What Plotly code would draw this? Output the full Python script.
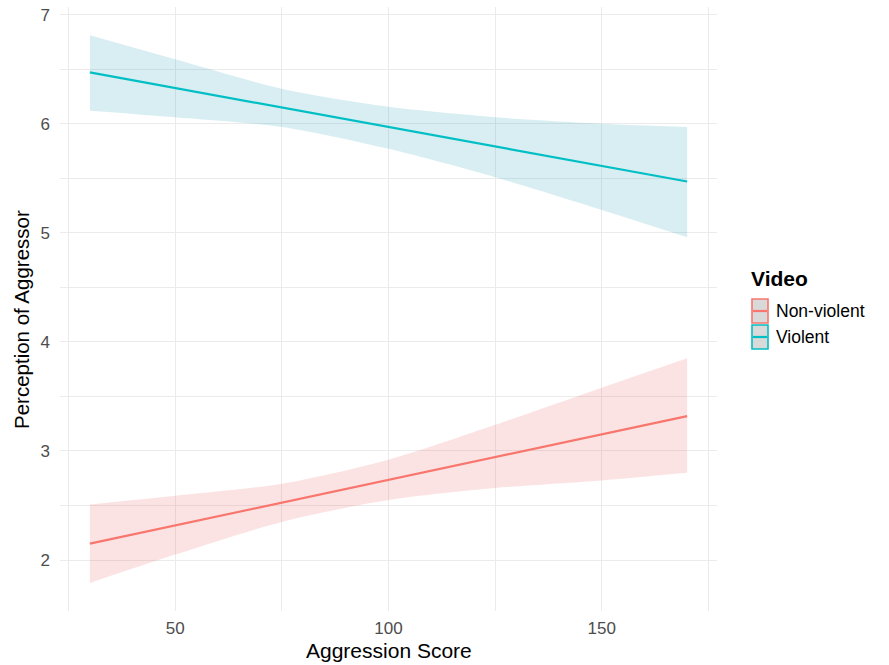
import plotly.graph_objects as go

# ---- data ----
x_line = [30, 170]
nonviolent_line = [2.15, 3.32]
violent_line = [6.47, 5.47]

x_band = [30, 50, 75, 100, 125, 150, 170]
violent_upper = [6.81, 6.59, 6.32, 6.155, 6.06, 6.00, 5.97]
violent_lower = [6.12, 6.06, 5.97, 5.77, 5.51, 5.21, 4.96]
nonviolent_upper = [2.51, 2.59, 2.70, 2.92, 3.24, 3.58, 3.85]
nonviolent_lower = [1.79, 2.05, 2.35, 2.55, 2.66, 2.73, 2.80]

groups = ["Non-violent", "Violent"]
x_ticks = [50, 100, 150]
y_ticks = [2, 3, 4, 5, 6, 7]

RED = "#F8766D"
CYAN = "#00BFC4"
FONT = "Liberation Sans, Arial, sans-serif"

fig = go.Figure()

bands = [
    (nonviolent_upper, nonviolent_lower, "rgba(240,100,100,0.18)"),
    (violent_upper, violent_lower, "rgba(11,149,174,0.16)"),
]
for up, lo, col in bands:
    fig.add_trace(go.Scatter(
        x=x_band, y=lo, mode="lines",
        line=dict(width=0, shape="spline", smoothing=0.8, color="rgba(0,0,0,0)"),
        hoverinfo="skip", showlegend=False))
    fig.add_trace(go.Scatter(
        x=x_band, y=up, mode="lines", fill="tonexty", fillcolor=col,
        line=dict(width=0, shape="spline", smoothing=0.8, color="rgba(0,0,0,0)"),
        hoverinfo="skip", showlegend=False))

for ys, col in [(nonviolent_line, RED), (violent_line, CYAN)]:
    fig.add_trace(go.Scatter(x=x_line, y=ys, mode="lines",
                             line=dict(color=col, width=2.2), showlegend=False))

# ---- layout geometry (page pixels; body margin removed below) ----
W, H = 889, 665
PL, PR, PT, PB = 60, 717, 7, 611      # plot area in page pixels
L, R, T, B = PL, W - PR, PT, H - PB
pw, ph = PR - PL, PB - PT

def px(x):
    return (x - PL) / pw

def py(y):
    return (PB - y) / ph

shapes = []
annotations = []
annotations.append(dict(x=px(749), y=py(278), xref="paper", yref="paper",
                        text="<b>Video</b>", showarrow=False, xanchor="left",
                        yanchor="middle", font=dict(family=FONT, size=21, color="#000000")))
keys = [(groups[0], RED, 298), (groups[1], CYAN, 324)]
for name, col, top in keys:
    shapes.append(dict(type="rect", xref="paper", yref="paper",
                       x0=px(752), x1=px(768), y0=py(top + 25), y1=py(top + 1),
                       fillcolor="#d9d9d9", line=dict(color=col, width=1.6)))
    shapes.append(dict(type="line", xref="paper", yref="paper",
                       x0=px(753), x1=px(767), y0=py(top + 13), y1=py(top + 13),
                       line=dict(color=col, width=2.2)))
    annotations.append(dict(x=px(774), y=py(top + 13), xref="paper", yref="paper",
                            text=name, showarrow=False, xanchor="left", yanchor="middle",
                            font=dict(family=FONT, size=17.5, color="#000000")))

# axis titles
annotations.append(dict(x=px(389), y=py(650), xref="paper", yref="paper",
                        text="Aggression Score", showarrow=False, xanchor="center",
                        yanchor="middle", font=dict(family=FONT, size=21, color="#000000")))
annotations.append(dict(x=px(22), y=py(320), xref="paper", yref="paper",
                        text="Perception of Aggressor", showarrow=False, textangle=-90,
                        xanchor="center", yanchor="middle",
                        font=dict(family=FONT, size=20.5, color="#000000")))

fig.update_layout(
    width=W, height=H,
    margin=dict(l=L, r=R, t=T, b=B, autoexpand=False),
    plot_bgcolor="white", paper_bgcolor="white",
    showlegend=False,
    font=dict(family=FONT),
    shapes=shapes, annotations=annotations,
    xaxis=dict(range=[23, 177], tickvals=x_ticks, ticks="", showline=False, zeroline=False,
               automargin=False,
               gridcolor="#ebebeb", gridwidth=1.1,
               minor=dict(tick0=25, dtick=50, showgrid=True, gridcolor="#ebebeb", gridwidth=0.6),
               tickfont=dict(family=FONT, size=17, color="#4d4d4d"),
               ticklabelstandoff=5, ticklabeloverflow="allow"),
    yaxis=dict(range=[1.533, 7.07], tickvals=y_ticks, ticks="", showline=False, zeroline=False,
               automargin=False,
               gridcolor="#ebebeb", gridwidth=1.1,
               minor=dict(tick0=1.5, dtick=1, showgrid=True, gridcolor="#ebebeb", gridwidth=0.6),
               tickfont=dict(family=FONT, size=17, color="#4d4d4d"),
               ticklabelstandoff=9, ticklabeloverflow="allow"),
)

fig.write_html("out.html",
               config={"displayModeBar": False},
               post_script="document.body.style.margin='0';document.body.style.overflow='hidden';")
